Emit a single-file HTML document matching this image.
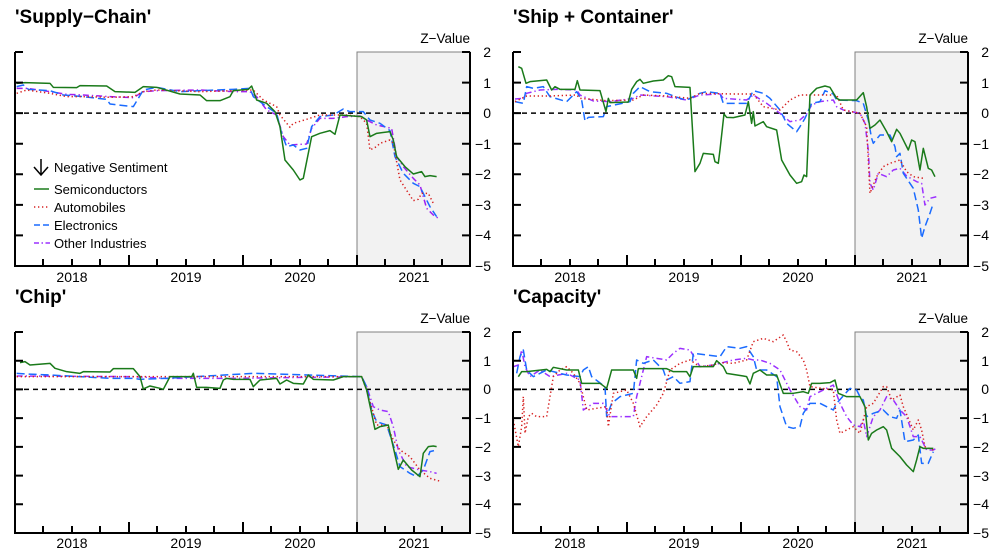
<!DOCTYPE html>
<html><head><meta charset="utf-8"><style>
html,body{margin:0;padding:0;background:#fff}
svg{display:block;font-family:"Liberation Sans",Arial,sans-serif}
</style></head><body>
<svg width="1000" height="554" viewBox="0 0 1000 554" xmlns="http://www.w3.org/2000/svg">
<defs>
<g id="none"></g>
</defs>

<!-- ===== Panel generic drawing: TL ===== -->
<g id="TL">
<text x="15" y="23" font-size="19" font-weight="bold">'Supply−Chain'</text>
<text x="470" y="43" font-size="13.5" text-anchor="end">Z−Value</text>
<rect x="357" y="52" width="113" height="214" fill="#f2f2f2" stroke="#808080" stroke-width="1"/>
<line x1="15" y1="113.1" x2="470" y2="113.1" stroke="#000" stroke-width="1.5" stroke-dasharray="5,4"/>
</g>
<g id="TR">
<text x="513" y="23" font-size="19" font-weight="bold">'Ship + Container'</text>
<text x="968" y="43" font-size="13.5" text-anchor="end">Z−Value</text>
<rect x="855" y="52" width="113" height="214" fill="#f2f2f2" stroke="#808080" stroke-width="1"/>
<line x1="513" y1="113.1" x2="968" y2="113.1" stroke="#000" stroke-width="1.5" stroke-dasharray="5,4"/>
</g>
<g id="BL">
<text x="15" y="303" font-size="19" font-weight="bold">'Chip'</text>
<text x="470" y="323" font-size="13.5" text-anchor="end">Z−Value</text>
<rect x="357" y="332" width="113" height="201" fill="#f2f2f2" stroke="#808080" stroke-width="1"/>
<line x1="15" y1="389.4" x2="470" y2="389.4" stroke="#000" stroke-width="1.5" stroke-dasharray="5,4"/>
</g>
<g id="BR">
<text x="513" y="303" font-size="19" font-weight="bold">'Capacity'</text>
<text x="968" y="323" font-size="13.5" text-anchor="end">Z−Value</text>
<rect x="855" y="332" width="113" height="201" fill="#f2f2f2" stroke="#808080" stroke-width="1"/>
<line x1="513" y1="389.4" x2="968" y2="389.4" stroke="#000" stroke-width="1.5" stroke-dasharray="5,4"/>
</g>

<!-- ===== Series (zoom coordinates, scaled 1/3) ===== -->
<g fill="none" stroke-width="4.5" stroke-linejoin="round" transform="translate(0,0) scale(0.3333)">
<polyline stroke="#ff00ff" stroke-opacity="0" points=""/>
<polyline stroke="#a020f0" stroke="#9b30ff" stroke-dasharray="18,9,4,9" points="50,265 80,265 150,275 200,283 250,285 330,290 400,293 430,275 470,272 600,270 700,275 750,275 770,290 800,330 830,345 850,410 870,435 920,432 935,385 960,355 1000,355 1040,350 1080,348 1100,360 1130,375 1175,385 1190,470 1210,500 1240,535 1260,555 1280,625 1300,645 1315,655"/>
<polyline stroke="#1a6bff" stroke-dasharray="24,12" points="50,260 70,255 85,268 150,272 190,285 250,290 320,298 330,312 400,320 430,270 470,262 540,275 600,272 700,268 750,265 760,290 800,320 830,340 845,400 860,440 880,435 900,450 920,445 935,380 960,350 1000,345 1030,327 1050,335 1090,335 1110,360 1140,370 1170,392 1185,470 1210,520 1240,550 1260,560 1290,620 1310,650"/>
<polyline stroke="#d62020" stroke-dasharray="4,8" points="50,280 80,270 150,280 200,290 250,290 330,292 400,290 430,275 470,270 600,275 700,272 760,270 790,300 830,320 840,345 870,382 880,370 920,358 960,345 1000,345 1040,345 1080,350 1100,370 1110,450 1130,440 1140,430 1170,420 1180,430 1200,540 1240,602 1255,598 1265,580 1285,580 1300,610"/>
<polyline stroke="#1a7a1a" points="50,250 75,248 150,250 160,262 230,263 240,257 320,258 345,275 405,277 430,260 470,262 540,282 600,285 620,302 660,302 690,290 700,272 745,268 755,258 770,300 800,310 825,335 840,380 855,480 880,510 900,540 910,535 935,410 960,400 990,392 1005,403 1020,345 1085,350 1100,360 1110,410 1130,400 1170,395 1180,420 1190,470 1215,500 1240,522 1265,515 1275,530 1290,527 1310,530"/>
</g>

<g fill="none" stroke-width="4.5" stroke-linejoin="round" transform="translate(500,40) scale(0.3333)">
<polyline stroke="#9b30ff" stroke-dasharray="18,9,4,9" points="45,177 70,175 80,160 120,150 170,148 230,150 240,165 280,183 330,185 400,175 420,165 500,170 560,180 600,165 660,162 670,175 740,180 760,165 800,190 840,220 870,245 900,240 920,222 935,195 960,185 1000,180 1010,200 1030,210 1080,220 1095,250 1105,330 1110,430 1120,450 1135,400 1160,410 1180,390 1200,385 1220,408 1250,425 1265,430 1275,495 1290,475 1310,470"/>
<polyline stroke="#1a6bff" stroke-dasharray="24,12" points="45,185 70,190 80,140 100,145 130,140 150,170 200,185 230,155 245,180 255,243 265,232 310,230 320,200 390,185 400,160 420,140 450,155 500,160 540,175 560,180 600,160 620,155 660,160 670,190 740,190 760,152 790,160 810,175 840,210 860,250 890,275 900,260 915,235 935,190 960,185 975,152 1000,162 1010,180 1070,182 1090,190 1105,240 1115,295 1120,310 1140,285 1170,285 1185,320 1190,350 1200,340 1210,400 1240,445 1255,510 1265,595 1275,560 1290,520 1300,490"/>
<polyline stroke="#d62020" stroke-dasharray="4,8" points="45,185 80,168 150,168 230,165 240,175 320,182 400,180 430,165 500,168 570,175 600,160 700,162 760,162 790,200 840,210 870,180 900,165 950,165 1010,165 1030,210 1080,220 1100,260 1110,460 1130,410 1150,380 1170,370 1200,360 1220,395 1240,410 1270,415"/>
<polyline stroke="#1a7a1a" points="55,80 65,85 78,130 90,125 140,120 155,150 165,140 180,148 225,148 232,122 240,150 300,152 318,215 325,175 330,188 385,186 395,148 410,125 420,118 430,130 460,123 490,120 505,107 515,110 525,140 570,142 585,395 600,370 610,340 640,343 645,365 655,370 660,330 672,222 680,232 700,233 735,225 745,185 755,250 760,215 765,258 790,245 800,260 830,270 845,360 870,405 890,430 905,425 912,405 920,410 930,165 950,145 975,138 990,142 1010,175 1020,180 1070,180 1090,158 1100,200 1110,265 1125,255 1140,240 1160,275 1175,305 1190,268 1200,280 1225,330 1235,300 1245,305 1260,390 1270,325 1285,385 1295,390 1305,410"/>
</g>

<g fill="none" stroke-width="4.5" stroke-linejoin="round" transform="translate(0,310) scale(0.3333)">
<polyline stroke="#9b30ff" stroke-dasharray="18,9,4,9" points="50,198 400,200 500,205 700,205 1085,200 1100,230 1120,290 1140,300 1165,305 1180,350 1195,420 1220,470 1260,480 1290,485 1310,490"/>
<polyline stroke="#1a6bff" stroke-dasharray="24,12" points="50,190 80,192 150,195 330,205 400,205 420,208 500,205 760,190 1085,200 1100,230 1115,300 1130,335 1160,345 1185,420 1200,470 1230,490 1250,500 1270,480 1290,425 1310,420"/>
<polyline stroke="#d62020" stroke-dasharray="4,8" points="50,200 400,200 1085,200 1100,240 1130,345 1160,345 1180,390 1200,420 1230,440 1260,480 1290,505 1325,515"/>
<polyline stroke="#1a7a1a" points="60,158 75,155 90,165 150,160 165,175 200,185 240,190 250,185 330,186 340,176 400,176 420,200 430,237 450,228 480,235 490,238 510,200 575,200 580,190 590,232 620,232 660,235 670,210 680,205 700,208 750,208 760,230 780,210 830,205 840,222 860,210 880,220 910,222 925,195 940,208 1000,210 1030,200 1085,200 1100,240 1115,310 1125,358 1140,350 1165,345 1175,390 1195,478 1210,450 1235,480 1260,500 1270,430 1285,410 1300,408 1310,410"/>
</g>

<g fill="none" stroke-width="4.5" stroke-linejoin="round" transform="translate(500,270) scale(0.3333)">
<polyline stroke="#9b30ff" stroke-dasharray="18,9,4,9" points="40,290 55,285 65,240 75,290 90,320 120,300 150,320 200,310 240,330 250,420 280,400 310,400 330,440 370,440 400,440 410,380 440,260 470,265 500,270 520,250 540,235 570,240 600,290 640,285 660,280 700,270 740,265 760,270 780,270 810,280 840,300 870,360 900,410 920,420 930,380 950,370 990,350 1000,345 1020,400 1040,440 1060,465 1080,470 1090,450 1100,500 1120,440 1140,420 1160,380 1180,390 1200,420 1220,440 1240,500 1260,500 1280,540 1300,540 1310,535"/>
<polyline stroke="#1a6bff" stroke-dasharray="24,12" points="50,310 60,260 70,240 80,300 100,320 140,300 160,305 200,315 240,320 250,300 265,290 275,320 315,350 320,440 335,400 360,380 400,370 410,270 430,280 460,270 490,300 500,330 520,320 540,340 570,335 580,250 620,255 660,260 680,230 720,235 740,230 760,260 770,300 800,300 830,320 840,410 860,470 880,475 900,470 910,430 930,400 960,400 1000,420 1010,400 1050,355 1070,360 1080,380 1090,390 1100,440 1120,430 1150,420 1170,440 1190,445 1200,420 1215,515 1240,510 1255,495 1265,580 1285,580 1300,545"/>
<polyline stroke="#d62020" stroke-dasharray="4,8" points="40,450 55,530 65,470 70,380 75,490 85,440 95,430 110,440 140,440 160,320 180,300 200,290 220,310 240,340 260,420 290,415 320,410 325,470 340,370 380,360 400,400 420,470 440,440 470,405 490,370 510,300 540,280 570,270 600,290 640,285 660,278 700,280 740,270 760,215 790,205 820,215 850,195 860,215 870,240 890,245 910,270 920,300 930,350 1000,360 1010,450 1020,490 1060,470 1080,490 1100,410 1120,400 1150,350 1160,350 1175,390 1200,375 1210,410 1240,480 1255,450 1265,480 1275,530 1300,540"/>
<polyline stroke="#1a7a1a" points="55,320 65,305 80,305 140,298 150,305 160,292 200,300 235,300 245,340 300,340 320,355 335,300 400,300 410,325 415,296 500,296 520,305 560,305 570,320 580,290 640,290 650,272 670,290 680,310 730,318 740,320 750,342 760,310 780,300 800,315 830,315 850,370 880,370 910,365 925,370 935,340 960,340 990,338 1005,330 1015,370 1040,380 1080,380 1095,410 1105,510 1115,490 1130,480 1150,470 1160,480 1175,535 1200,560 1220,585 1240,605 1250,570 1260,530 1270,535 1300,535"/>
</g>

<!-- ===== Axes ===== -->
<g stroke="#000" stroke-width="2" fill="none">
<!-- TL -->
<path d="M15,52 V266 H470 V52"/>
<path d="M15,52h8M15,82.6h8M15,113.1h8M15,143.7h8M15,174.3h8M15,204.9h8M15,235.4h8"/>
<path d="M470,52h-8M470,82.6h-8M470,113.1h-8M470,143.7h-8M470,174.3h-8M470,204.9h-8M470,235.4h-8"/>
<path d="M43,266v-7M72,266v-7M100,266v-7M129,266v-11M157,266v-7M186,266v-7M214,266v-7M243,266v-11M271,266v-7M300,266v-7M328,266v-7M357,266v-11M385,266v-7M414,266v-7M442,266v-7"/>
<!-- TR -->
<path d="M513,52 V266 H968 V52"/>
<path d="M513,52h8M513,82.6h8M513,113.1h8M513,143.7h8M513,174.3h8M513,204.9h8M513,235.4h8"/>
<path d="M968,52h-8M968,82.6h-8M968,113.1h-8M968,143.7h-8M968,174.3h-8M968,204.9h-8M968,235.4h-8"/>
<path d="M541,266v-7M570,266v-7M598,266v-7M627,266v-11M655,266v-7M684,266v-7M712,266v-7M741,266v-11M769,266v-7M798,266v-7M826,266v-7M855,266v-11M883,266v-7M912,266v-7M940,266v-7"/>
<!-- BL -->
<path d="M15,332 V533 H470 V332"/>
<path d="M15,332h8M15,360.7h8M15,389.4h8M15,418.1h8M15,446.9h8M15,475.6h8M15,504.3h8"/>
<path d="M470,332h-8M470,360.7h-8M470,389.4h-8M470,418.1h-8M470,446.9h-8M470,475.6h-8M470,504.3h-8"/>
<path d="M43,533v-7M72,533v-7M100,533v-7M129,533v-11M157,533v-7M186,533v-7M214,533v-7M243,533v-11M271,533v-7M300,533v-7M328,533v-7M357,533v-11M385,533v-7M414,533v-7M442,533v-7"/>
<!-- BR -->
<path d="M513,332 V533 H968 V332"/>
<path d="M513,332h8M513,360.7h8M513,389.4h8M513,418.1h8M513,446.9h8M513,475.6h8M513,504.3h8"/>
<path d="M968,332h-8M968,360.7h-8M968,389.4h-8M968,418.1h-8M968,446.9h-8M968,475.6h-8M968,504.3h-8"/>
<path d="M541,533v-7M570,533v-7M598,533v-7M627,533v-11M655,533v-7M684,533v-7M712,533v-7M741,533v-11M769,533v-7M798,533v-7M826,533v-7M855,533v-11M883,533v-7M912,533v-7M940,533v-7"/>
</g>

<!-- ===== Tick labels ===== -->
<g font-size="14" text-anchor="end">
<text x="491" y="57">2</text><text x="491" y="88">1</text><text x="491" y="118">0</text><text x="491" y="149">−1</text><text x="491" y="179">−2</text><text x="491" y="210">−3</text><text x="491" y="240">−4</text><text x="491" y="271">−5</text>
<text x="989" y="57">2</text><text x="989" y="88">1</text><text x="989" y="118">0</text><text x="989" y="149">−1</text><text x="989" y="179">−2</text><text x="989" y="210">−3</text><text x="989" y="240">−4</text><text x="989" y="271">−5</text>
<text x="491" y="337">2</text><text x="491" y="366">1</text><text x="491" y="394">0</text><text x="491" y="423">−1</text><text x="491" y="452">−2</text><text x="491" y="481">−3</text><text x="491" y="509">−4</text><text x="491" y="538">−5</text>
<text x="989" y="337">2</text><text x="989" y="366">1</text><text x="989" y="394">0</text><text x="989" y="423">−1</text><text x="989" y="452">−2</text><text x="989" y="481">−3</text><text x="989" y="509">−4</text><text x="989" y="538">−5</text>
</g>
<g font-size="14" text-anchor="middle">
<text x="72" y="282">2018</text><text x="186" y="282">2019</text><text x="300" y="282">2020</text><text x="414" y="282">2021</text>
<text x="570" y="282">2018</text><text x="684" y="282">2019</text><text x="798" y="282">2020</text><text x="912" y="282">2021</text>
<text x="72" y="548">2018</text><text x="186" y="548">2019</text><text x="300" y="548">2020</text><text x="414" y="548">2021</text>
<text x="570" y="548">2018</text><text x="684" y="548">2019</text><text x="798" y="548">2020</text><text x="912" y="548">2021</text>
</g>

<!-- ===== Legend ===== -->
<g font-size="13">
<path d="M41,159 V175 M34,167 L41,175 L48,167" stroke="#000" stroke-width="1.5" fill="none"/>
<text x="54" y="172">Negative Sentiment</text>
<line x1="34" y1="189" x2="49" y2="189" stroke="#1a7a1a" stroke-width="1.5"/>
<text x="54" y="194">Semiconductors</text>
<line x1="34" y1="207" x2="50" y2="207" stroke="#d62020" stroke-width="1.5" stroke-dasharray="1.3,2.7"/>
<text x="54" y="212">Automobiles</text>
<line x1="34" y1="225" x2="50" y2="225" stroke="#1a6bff" stroke-width="1.5" stroke-dasharray="6,3"/>
<text x="54" y="230">Electronics</text>
<line x1="34" y1="243" x2="50" y2="243" stroke="#9b30ff" stroke-width="1.5" stroke-dasharray="5,2.5,1.5,2.5"/>
<text x="54" y="248">Other Industries</text>
</g>
</svg>
</body></html>
